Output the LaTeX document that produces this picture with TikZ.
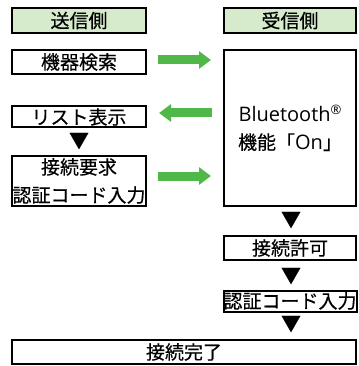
\documentclass[tikz,border=0pt]{standalone}
\usepackage{fontspec}
\newfontfamily\jp[FakeBold=0.4]{Noto Sans CJK JP}
\newfontfamily\lat{Open Sans}
\usetikzlibrary{arrows.meta,positioning}
\definecolor{headgreen}{RGB}{214,234,204}
\definecolor{arrowgreen}{RGB}{80,184,72}

\begin{document}
\begin{tikzpicture}[x=1pt, y=-1pt,
    box/.style={draw, line width=2pt, inner sep=0pt, align=center, font=\jp\fontsize{19}{28}\selectfont},
    leftbox/.style={box, minimum width=134pt},
    rightbox/.style={box, minimum width=132pt},
    tri/.style={inner sep=0pt, font=\jp\fontsize{20}{20}\selectfont},
    garrow/.style={arrowgreen, line width=9pt, -{Triangle[width=17pt, length=12pt]}, shorten <=11pt, shorten >=12pt}]
  \useasboundingbox (0,0) rectangle (358,366);

  % headers
  \node[leftbox, fill=headgreen, minimum height=25pt] (sendhd) at (79,20.5) {送信側};
  \node[rightbox, fill=headgreen, minimum height=25pt] (recvhd) at (290,20.5) {受信側};

  % sender side
  \node[leftbox, minimum height=24pt] (search) at (79,62) {機器検索};
  \node[leftbox, minimum height=21pt] (list) at (79,117) {リスト表示};
  \node[tri] (tria) at (79,141) {▼};
  \node[leftbox, minimum height=50pt] (request) at (79,181) {接続要求\\認証コード入力};

  % receiver side
  \node[rightbox, minimum height=156pt] (bt) at (290,128)
    {{\lat\fontsize{20}{20}\selectfont Bluetooth\raisebox{7pt}{\fontsize{13}{13}\selectfont ®}}\\機能「{\lat\fontsize{20}{20}\selectfont On}」};
  \node[tri] (trib) at (291,220) {▼};
  \node[rightbox, minimum height=24pt] (permit) at (290,248) {接続許可};
  \node[tri] (tric) at (291,276) {▼};
  \node[rightbox, minimum height=21pt] (code) at (290,301) {認証コード入力};
  \node[tri] (trid) at (291,324) {▼};

  % result
  \node[box, minimum width=344pt, minimum height=24pt] (done) at (184,352) {接続完了};

  % green arrows
  \draw[garrow] ([yshift=2pt]search.east) -- ([yshift=2pt]search.east -| bt.west);
  \draw[garrow] ([yshift=4pt]list.east -| bt.west) -- ([yshift=4pt]list.east);
  \draw[garrow] ([yshift=5pt]request.east) -- ([yshift=5pt]request.east -| bt.west);
\end{tikzpicture}
\end{document}
